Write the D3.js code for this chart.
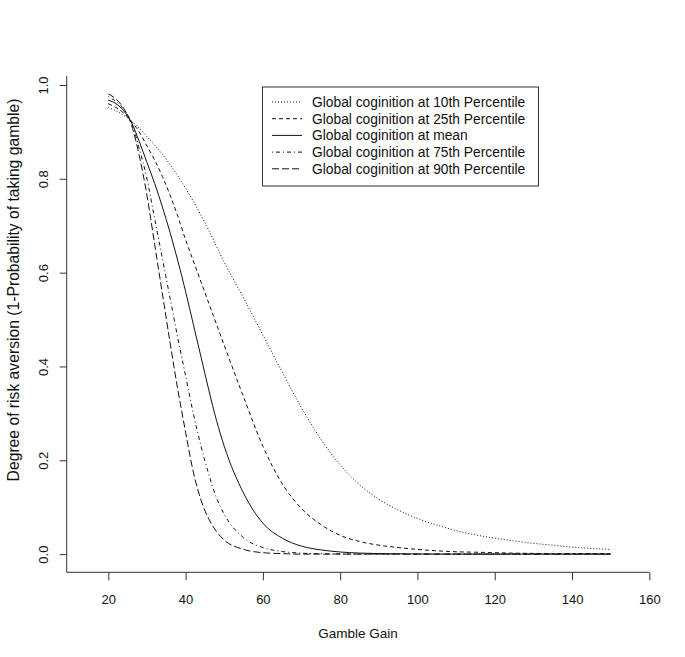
<!DOCTYPE html>
<html>
<head>
<meta charset="utf-8">
<script src="https://cdn.jsdelivr.net/npm/d3@7"></script>
<style>
  body { margin: 0; background: #fff; }
  text { font-family: "Liberation Sans", Arial, sans-serif; fill: #111; }
</style>
</head>
<body>
<svg id="chart"></svg>
<script>
// gamble gain values at which the curves were read
const gains = [20,22,24,26,28,30,32,34,36,38,40,42,44,46,48,50,55,60,65,70,75,80,85,90,95,100,105,110,115,120,125,130,135,140,145,150];

// degree of risk aversion
const p10 = [0.952,0.945,0.935,0.923,0.908,0.890,0.872,0.852,0.830,0.806,0.780,0.752,0.722,0.690,0.656,0.622,0.546,0.467,0.388,0.312,0.245,0.190,0.148,0.117,0.094,0.076,0.062,0.050,0.041,0.034,0.028,0.023,0.019,0.015,0.012,0.010];
const p25 = [0.960,0.952,0.940,0.922,0.900,0.870,0.840,0.805,0.765,0.720,0.670,0.625,0.580,0.535,0.490,0.445,0.335,0.230,0.150,0.097,0.063,0.040,0.027,0.019,0.014,0.010,0.007,0.005,0.004,0.003,0.002,0.0015,0.001,0.001,0.001,0.0005];
const pMean = [0.968,0.960,0.945,0.920,0.880,0.835,0.790,0.740,0.685,0.625,0.560,0.490,0.420,0.350,0.285,0.230,0.130,0.066,0.034,0.017,0.009,0.0045,0.0022,0.0011,0.0006,0.0003,0,0,0,0,0,0,0,0,0,0];
const p75 = [0.975,0.965,0.948,0.920,0.865,0.800,0.715,0.630,0.545,0.460,0.380,0.300,0.230,0.170,0.120,0.085,0.035,0.014,0.0055,0.002,0.0008,0.0003,0,0,0,0,0,0,0,0,0,0,0,0,0,0];
const p90 = [0.981,0.970,0.950,0.915,0.850,0.765,0.660,0.555,0.450,0.350,0.260,0.175,0.115,0.075,0.048,0.030,0.010,0.003,0.001,0,0,0,0,0,0,0,0,0,0,0,0,0,0,0,0,0];

const seriesNames = [
  'Global coginition at 10th Percentile',
  'Global coginition at 25th Percentile',
  'Global coginition at mean',
  'Global coginition at 75th Percentile',
  'Global coginition at 90th Percentile'
];
const xTicks = [20,40,60,80,100,120,140,160];
const yTicks = [0,0.2,0.4,0.6,0.8,1.0];

const width = 685, height = 657;
const dashes = ['1,2', '4,3', null, '1,3,4,3', '7,3'];
const series = [p10, p25, pMean, p75, p90].map((vals, i) => ({
  name: seriesNames[i],
  dash: dashes[i],
  points: gains.map((g, j) => ({ x: g, y: vals[j] }))
}));

const svg = d3.select('#chart').attr('width', width).attr('height', height);
svg.append('rect').attr('width', width).attr('height', height).attr('fill', '#fff');

const x = d3.scaleLinear().domain([9.235, 160]).range([66.7, 649.3]);
const y = d3.scaleLinear().domain([-0.0388, 1.0192]).range([572.3, 76]);

// L-shaped box
svg.append('path')
  .attr('d', 'M' + x.range()[0] + ',' + y.range()[1] + 'V' + y.range()[0] + 'H' + x.range()[1])
  .attr('fill', 'none')
  .attr('stroke', '#333')
  .attr('stroke-width', 1);

const xAxis = svg.append('g')
  .attr('transform', 'translate(0,' + y.range()[0] + ')')
  .call(d3.axisBottom(x).tickValues(xTicks).tickSize(8).tickFormat(d3.format('d')));
xAxis.select('.domain').remove();
xAxis.selectAll('line').attr('stroke', '#333');
xAxis.selectAll('text').attr('y', 32).attr('dy', 0).style('font-size', '13px');

const yAxis = svg.append('g')
  .attr('transform', 'translate(' + x.range()[0] + ',0)')
  .call(d3.axisLeft(y).tickValues(yTicks).tickSize(7).tickFormat(d3.format('.1f')));
yAxis.select('.domain').remove();
yAxis.selectAll('line').attr('stroke', '#333');
yAxis.selectAll('text')
  .attr('x', 0).attr('dy', 0)
  .attr('transform', 'translate(-19,0) rotate(-90)')
  .attr('text-anchor', 'middle')
  .style('font-size', '13px');

// axis titles
svg.append('text')
  .attr('x', 358).attr('y', 638)
  .attr('text-anchor', 'middle')
  .style('font-size', '13.5px')
  .text('Gamble Gain');
svg.append('text')
  .attr('transform', 'translate(19,290) rotate(-90)')
  .attr('text-anchor', 'middle')
  .style('font-size', '15.7px')
  .text('Degree of risk aversion (1-Probability of taking gamble)');

// curves
const line = d3.line()
  .x(d => x(d.x))
  .y(d => y(d.y))
  .curve(d3.curveMonotoneX);

svg.append('g').selectAll('path')
  .data(series)
  .join('path')
  .attr('d', d => line(d.points))
  .attr('fill', 'none')
  .attr('stroke', '#111')
  .attr('stroke-width', 1)
  .attr('stroke-dasharray', d => d.dash);

// legend
const legend = svg.append('g');
legend.append('rect')
  .attr('x', 262.5).attr('y', 87)
  .attr('width', 276).attr('height', 99)
  .attr('fill', '#fff')
  .attr('stroke', '#333');
const rows = legend.selectAll('g.row')
  .data(series)
  .join('g')
  .attr('class', 'row')
  .attr('transform', (d, i) => 'translate(0,' + (102 + i * 16.7) + ')');
rows.append('line')
  .attr('x1', 272).attr('x2', 302)
  .attr('stroke', '#111')
  .attr('stroke-dasharray', d => d.dash);
rows.append('text')
  .attr('x', 312).attr('dy', '0.35em')
  .style('font-size', '13.8px')
  .text(d => d.name);
</script>
</body>
</html>
